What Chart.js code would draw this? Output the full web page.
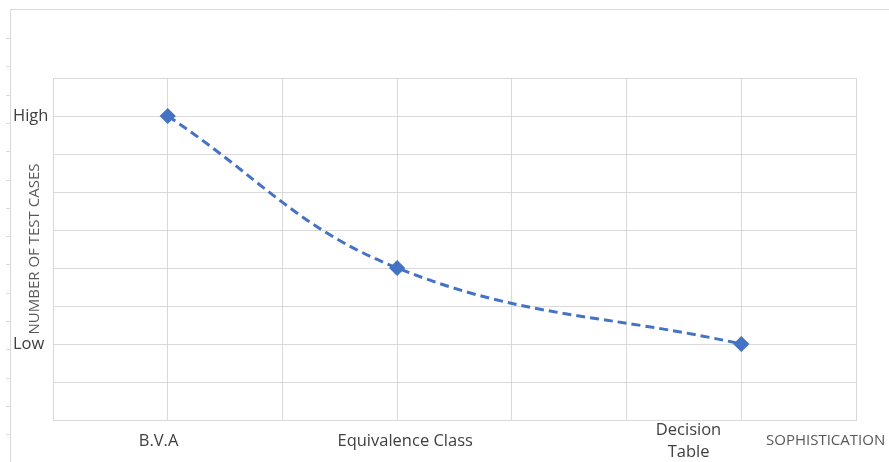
<!DOCTYPE html>
<html>
<head>
<meta charset="utf-8">
<script src="https://cdn.jsdelivr.net/npm/chart.js@4"></script>
<style>
  html, body { margin: 0; padding: 0; background: #fff; }
  #wrap { width: 889px; height: 462px; }
</style>
</head>
<body>
<div id="wrap"><canvas id="chart" width="889" height="462"></canvas></div>
<script>
'use strict';

// techniques along the x axis, and where they sit
const categories = ['B.V.A', 'Equivalence Class', ['Decision', 'Table']];
const xValues = [1, 3, 6];
// number of test cases (relative scale 0..9)
const yValues = [8, 4, 2];
// only two named levels on the y axis
const yLabels = { 8: 'High', 2: 'Low' };
// x positions of the category labels (they are not under the points)
const labelPos = [0.92, 3.07, 5.54];

const GRID = '#d9d9d9';
const BLUE = '#4472c4';
const FONT = '"Open Sans", "Noto Sans", sans-serif';

// outer frame with little ticks + the x title sitting at the right
const framePlugin = {
    id: 'frame',
    beforeDraw(chart) {
        const ctx = chart.ctx;
        ctx.save();
        ctx.strokeStyle = GRID;
        ctx.lineWidth = 1;
        ctx.beginPath();
        ctx.moveTo(10.5, chart.height);
        ctx.lineTo(10.5, 9.5);
        ctx.lineTo(chart.width, 9.5);
        for (let y = 38; y < chart.height; y += 28.3) {
            const yy = Math.round(y) + 0.5;
            ctx.moveTo(6, yy);
            ctx.lineTo(10.5, yy);
        }
        ctx.stroke();

        ctx.fillStyle = '#595959';
        ctx.font = '15px ' + FONT;
        ctx.textAlign = 'left';
        ctx.textBaseline = 'middle';
        ctx.fillText('SOPHISTICATION', chart.chartArea.right - 90, 441);
        ctx.restore();
    }
};

const points = [];
for (let i = 0; i < xValues.length; i++) {
    points.push({ x: xValues[i], y: yValues[i] });
}

const config = {
    type: 'line',
    data: {
        datasets: [{
            data: points,
            borderColor: BLUE,
            backgroundColor: BLUE,
            borderWidth: 3,
            borderDash: [9, 5],
            tension: 0.4,
            pointStyle: 'rectRot',
            pointRadius: 6,
            pointHoverRadius: 6,
            xAxisID: 'x',
            yAxisID: 'y'
        }]
    },
    options: {
        responsive: false,
        animation: false,
        layout: { padding: { left: 13, top: 78, right: 33, bottom: 0 } },
        plugins: {
            legend: { display: false },
            tooltip: { enabled: false }
        },
        scales: {
            // bottom axis: only the category labels
            x: {
                type: 'linear',
                position: 'bottom',
                min: 0,
                max: 7,
                grid: { display: false },
                border: { color: GRID },
                afterBuildTicks: (scale) => {
                    scale.ticks = labelPos.map(v => ({ value: v }));
                },
                afterFit: (scale) => { scale.height = 42; },
                ticks: {
                    autoSkip: false,
                    maxRotation: 0,
                    padding: 2,
                    crossAlign: 'center',
                    color: '#404040',
                    font: { family: FONT, size: 16.5, lineHeight: 1.33 },
                    callback: (val, idx) => categories[idx]
                }
            },
            // top axis: just the vertical gridlines
            x2: {
                type: 'linear',
                position: 'top',
                min: 0,
                max: 7,
                grid: { color: GRID, drawTicks: false },
                border: { color: GRID },
                ticks: { display: false, stepSize: 1 },
                afterFit: (scale) => { scale.height = 0; }
            },
            y: {
                min: 0,
                max: 9,
                grid: { color: GRID, drawTicks: false },
                border: { color: GRID },
                afterFit: (scale) => { scale.width = 40; },
                ticks: {
                    stepSize: 1,
                    crossAlign: 'far',
                    color: '#404040',
                    font: { family: FONT, size: 16.5 },
                    callback: (v) => (yLabels[v] !== undefined ? yLabels[v] : '')
                },
                title: {
                    display: true,
                    text: 'NUMBER OF TEST CASES',
                    color: '#595959',
                    font: { family: FONT, size: 15 },
                    padding: { top: 13, bottom: 0 }
                }
            }
        }
    },
    plugins: [framePlugin]
};

new Chart(document.getElementById('chart'), config);
</script>
</body>
</html>
